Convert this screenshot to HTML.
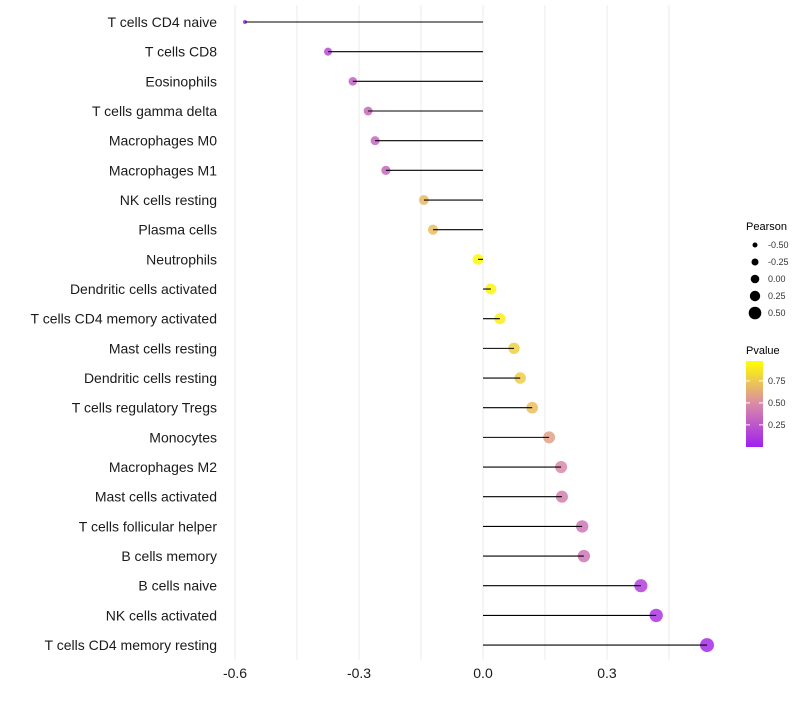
<!DOCTYPE html>
<html><head><meta charset="utf-8"><style>
body{margin:0;background:#fff;font-family:"Liberation Sans",sans-serif}
svg text{font-family:"Liberation Sans",sans-serif}
</style></head><body>
<svg id="c" width="800" height="700" xmlns="http://www.w3.org/2000/svg"></svg>
<script>
const categories=["T cells CD4 naive","T cells CD8","Eosinophils","T cells gamma delta","Macrophages M0","Macrophages M1","NK cells resting","Plasma cells","Neutrophils","Dendritic cells activated","T cells CD4 memory activated","Mast cells resting","Dendritic cells resting","T cells regulatory  Tregs ","Monocytes","Macrophages M2","Mast cells activated","T cells follicular helper","B cells memory","B cells naive","NK cells activated","T cells CD4 memory resting"];
const pearson=[-0.576,-0.375,-0.315,-0.278,-0.261,-0.235,-0.143,-0.121,-0.012,0.019,0.041,0.075,0.09,0.119,0.16,0.189,0.191,0.24,0.244,0.382,0.419,0.542];
const pvalue=[0.03,0.2,0.3,0.33,0.33,0.33,0.7,0.72,0.98,0.95,0.93,0.8,0.78,0.72,0.6,0.5,0.45,0.4,0.4,0.15,0.1,0.05];
const xTicks=[-0.6,-0.3,0,0.3];
const xTickLabels=["-0.6","-0.3","0.0","0.3"];
const sizeLegend=[-0.5,-0.25,0,0.25,0.5];
const pTicks=[0.25,0.5,0.75];
const NS="http://www.w3.org/2000/svg";
const svg=document.getElementById('c');
function el(t,a,p){const e=document.createElementNS(NS,t);for(const k in a)e.setAttribute(k,a[k]);(p||svg).appendChild(e);return e;}
const x=v=>483+v*413.3;
const y=i=>22+i*29.67;
const pmin=Math.min(...pearson),pmax=Math.max(...pearson);
const r=v=>Math.sqrt(Math.max(4,9+(v-pmin)/(pmax-pmin)*40));
function lerp(a,b,t){return a.map((c,i)=>Math.round(c+(b[i]-c)*t));}
function col(p){const A=[160,32,240],M=[217,138,168],B=[255,255,0];const c=p<0.5?lerp(A,M,p/0.5):lerp(M,B,(p-0.5)/0.5);return `rgb(${c})`;}
for(let v=-0.6;v<=0.46;v+=0.15){const g=el('line',{x1:x(v),x2:x(v),y1:5,y2:660,stroke:'#ebebeb','stroke-width':1});

}
categories.forEach((c,i)=>{
 const t=el('text',{x:217,y:y(i)+5,'text-anchor':'end','font-size':14,fill:'#1a1a1a'});t.textContent=c;
 
 
 const rr=i===0?2:r(pearson[i]);
 const d=el('circle',{cx:x(pearson[i]),cy:y(i),r:rr,fill:col(pvalue[i]),opacity:0.85});
 
 
 const l=el('line',{x1:x(0),x2:x(pearson[i]),y1:y(i),y2:y(i),stroke:'#000','stroke-width':1.1});
 
 
});
xTicks.forEach((v,i)=>{const t=el('text',{x:x(v),y:678,'text-anchor':'middle','font-size':14,fill:'#1a1a1a'});t.textContent=xTickLabels[i];

});
let t=el('text',{x:746,y:230,'font-size':11,fill:'#000'});t.textContent='Pearson';


const lr=[2.5,3.5,4.3,5.2,6.3];
sizeLegend.forEach((v,i)=>{const cy=245+i*17;const c=el('circle',{cx:755,cy:cy,r:lr[i],fill:'#000'});


const s=el('text',{x:768,y:cy+3,'font-size':9,fill:'#333'});s.textContent=v.toFixed(2);

});
t=el('text',{x:746,y:354,'font-size':11,fill:'#000'});t.textContent='Pvalue';


const defs=el('defs',{});const lg=el('linearGradient',{id:'g',x1:0,y1:1,x2:0,y2:0},defs);
[[0,col(0)],[0.5,col(0.5)],[1,col(1)]].forEach(s=>el('stop',{offset:s[0],'stop-color':s[1]},lg));
const bar=el('rect',{x:746,y:361,width:17,height:86,fill:'url(#g)'});


const py=p=>446-(p-0.01)*88;
pTicks.forEach(p=>{const s=el('text',{x:768,y:py(p)+3,'font-size':9,fill:'#333'});s.textContent=p.toFixed(2);


el('line',{x1:746,x2:750,y1:py(p),y2:py(p),stroke:'#fff'});el('line',{x1:759,x2:763,y1:py(p),y2:py(p),stroke:'#fff'});});
</script>
</body></html>
